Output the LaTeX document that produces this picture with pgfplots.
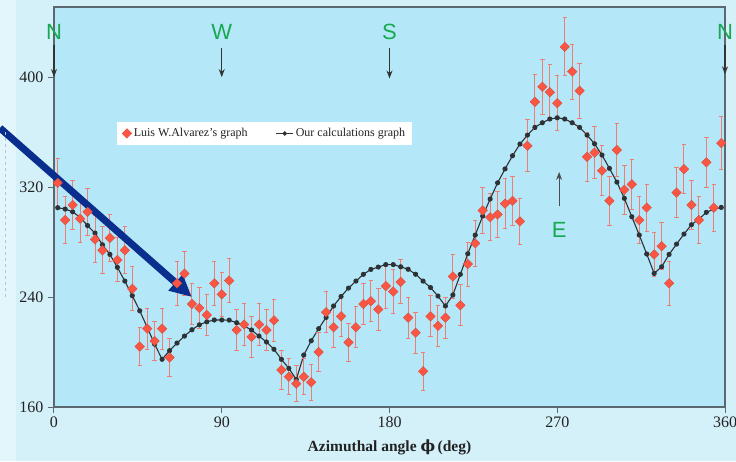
\documentclass[border=0pt]{standalone}
\usepackage{pgfplots}
\pgfplotsset{compat=1.18}
\usepackage{pgfplotstable}
\usepackage{fontspec}
\setmainfont{Liberation Serif}
\newfontfamily\sansf{Liberation Sans}
\newfontfamily\dvserif{DejaVu Serif}
\usetikzlibrary{backgrounds,arrows.meta}

\definecolor{outerbg}{HTML}{D4F1FA}
\definecolor{stripbg}{HTML}{E3F6FC}
\definecolor{plotbg}{HTML}{B4E8F8}
\definecolor{axisgray}{HTML}{5C6870}
\definecolor{redpt}{HTML}{FB5644}
\definecolor{rederr}{HTML}{EE7E74}
\definecolor{calcline}{HTML}{2E3236}
\definecolor{dirgreen}{HTML}{18A850}
\definecolor{bigblue}{HTML}{0A2E8E}
\definecolor{darktext}{HTML}{222222}

\pgfplotstableread{
x y e
2 323 18
6 296 17
10 307 18
14 297 17
18 302 17
22 282 17
26 274 17
30 283 17
34 267 16
38 274 17
42 246 16
46 204 14
50 217 15
54 208 14
58 217 15
62 196 14
66 250 16
70 257 16
74 235 15
78 232 15
82 227 15
86 250 16
90 242 16
94 252 16
98 216 15
102 220 15
106 211 15
110 220 15
114 216 15
118 223 15
122 187 14
126 182 13
130 177 13
134 182 13
138 178 13
142 200 14
146 229 15
150 218 15
154 226 15
158 207 14
162 218 15
166 235 15
170 237 15
174 231 15
178 248 16
182 244 16
186 251 16
190 225 15
194 214 15
198 186 14
202 226 15
206 219 15
210 225 15
214 255 16
218 234 15
222 264 16
226 279 17
230 303 17
234 298 17
238 300 17
242 308 18
246 310 18
250 295 17
254 350 19
258 382 20
262 393 20
266 389 20
270 381 20
274 422 21
278 404 20
282 390 20
286 342 18
290 345 19
294 332 18
298 310 18
302 347 19
306 318 18
310 322 18
314 296 17
318 305 17
322 271 16
326 277 17
330 250 16
334 316 18
338 333 18
342 307 18
346 296 17
350 338 18
354 305 17
358 352 19
}\alvarez

\pgfplotstableread{
x y
2 305
6 304
10 302
14 298
18 292
22 286.5
26 278
30 271
34 261.6
38 251.6
42 241
46 230
50 218
54 205.7
58 194.7
62 201
66 206.5
70 211.6
74 216.2
78 219.8
82 222
86 223.3
90 223.3
94 223.2
98 221.3
102 219
106 216
110 211.6
114 207.3
118 202
122 194.7
126 188.1
130 180.1
134 197.8
138 208.2
142 217
146 225.2
150 233.5
154 240.4
158 246.5
162 251.6
166 256.5
170 260.1
174 261.8
178 263.6
182 263.6
186 262
190 260.2
194 256.6
198 251.6
202 246.9
206 240.7
210 233.5
214 241.5
218 256.5
222 271.5
226 285.1
230 298.9
234 311.3
238 323.1
242 333.2
246 342.8
250 351.3
254 357.8
258 363.4
262 366.8
266 369.5
270 370.4
274 369.5
278 366.8
282 363.4
286 357.8
290 351.5
294 343.3
298 333.6
302 323.6
306 311.8
310 298.4
314 285.1
318 271.3
322 257.2
326 262
330 271
334 278.5
338 285.8
342 292.6
346 296.7
350 301.6
354 304
358 305.2
}\calc

\begin{document}
\begin{tikzpicture}
\begin{axis}[
  name=ax,
  scale only axis,
  width=671pt, height=400pt,
  xmin=0, xmax=360, ymin=160, ymax=451,
  xtick={0,90,180,270,360},
  ytick={160,240,320,400},
  tick align=outside, tick pos=left,
  major tick length=6pt,
  axis background/.style={fill=plotbg},
  axis line style={draw=axisgray, line width=1.2pt},
  tick style={draw=axisgray, line width=1pt},
  ticklabel style={font=\fontsize{16}{18}\selectfont, text=darktext},
  yticklabel style={xshift=-1pt},
  /pgf/number format/assume math mode=true,
  xlabel={\textbf{Azimuthal angle {\dvserif\bfseries ϕ}\,(deg)}},
  xlabel style={font=\fontsize{15.5}{17}\selectfont, text=darktext, at={(axis description cs:0.5,0)}, anchor=center, yshift=-40pt},
  clip=false,
  legend style={at={(axis cs:113,359)}, anchor=center, draw=none, fill=white,
    font=\fontsize{12}{14}\selectfont, text=darktext,
    inner xsep=5pt, inner ysep=5pt},
  legend columns=2,
  legend cell align=left,
  /tikz/every even column/.append style={column sep=26pt},
]
\coordinate (bl) at (rel axis cs:0,0);
\coordinate (tr) at (rel axis cs:1,1);

\addplot[color=calcline, line width=1.1pt, mark=*, mark size=2pt,
  mark options={fill=calcline, draw=calcline}, forget plot]
  table[x=x, y=y] {\calc};

\addplot[only marks, mark=square*, mark size=3.4pt,
  mark options={fill=redpt, draw=redpt!85!black, line width=0.3pt, rotate=45},
  error bars/.cd, y dir=both, y explicit,
  error bar style={color=rederr, line width=1pt},
  error mark options={rotate=90, mark size=2.2pt, color=rederr, line width=1pt}]
  table[x=x, y=y, y error=e] {\alvarez};
\addlegendentry{Luis W.Alvarez’s graph}
\addlegendimage{color=calcline, line width=1.1pt, mark=*, mark size=1.6pt, mark options={fill=calcline}}
\addlegendentry{Our calculations graph}

% direction labels
\node[text=dirgreen, font=\sansf\fontsize{22}{24}\selectfont] at (axis cs:0,433) {N};
\node[text=dirgreen, font=\sansf\fontsize{22}{24}\selectfont] at (axis cs:90,433) {W};
\node[text=dirgreen, font=\sansf\fontsize{22}{24}\selectfont] at (axis cs:180,433) {S};
\node[text=dirgreen, font=\sansf\fontsize{22}{24}\selectfont] at (axis cs:360,433) {N};
\node[text=dirgreen, font=\sansf\fontsize{22}{24}\selectfont] at (axis cs:271,289) {E};
\draw[-{Stealth[length=8pt,width=6pt]}, line width=1.1pt, color=black!80] (axis cs:0,423) -- (axis cs:0,400);
\draw[-{Stealth[length=8pt,width=6pt]}, line width=1.1pt, color=black!80] (axis cs:90,421) -- (axis cs:90,400);
\draw[-{Stealth[length=8pt,width=6pt]}, line width=1.1pt, color=black!80] (axis cs:180,421) -- (axis cs:180,399);
\draw[-{Stealth[length=8pt,width=6pt]}, line width=1.1pt, color=black!80] (axis cs:360,423) -- (axis cs:360,402);
\draw[-{Stealth[length=8pt,width=6pt]}, line width=1.1pt, color=black!70] (axis cs:271,306) -- (axis cs:271,331);

% big pointer arrow
\draw[line width=7pt, color=bigblue, -{Triangle[length=22pt,width=20pt]}]
  (axis cs:-29,363) -- (axis cs:74,240);
\end{axis}

\begin{scope}[on background layer]
  \fill[outerbg] ([xshift=-54pt,yshift=-54pt]bl) rectangle ([xshift=11pt,yshift=7pt]tr);
  \fill[stripbg] ([xshift=-54pt,yshift=-54pt]bl) rectangle ([xshift=-38pt,yshift=7pt]bl |- tr);
\end{scope}
\draw[dashed, color=bigblue!30, line width=0.6pt]
  ([xshift=-49pt,yshift=110pt]bl) -- ([xshift=-49pt,yshift=275pt]bl);
\pgfresetboundingbox
\useasboundingbox ([xshift=-54pt,yshift=-54pt]bl) rectangle ([xshift=11pt,yshift=7pt]tr);
\end{tikzpicture}
\end{document}
